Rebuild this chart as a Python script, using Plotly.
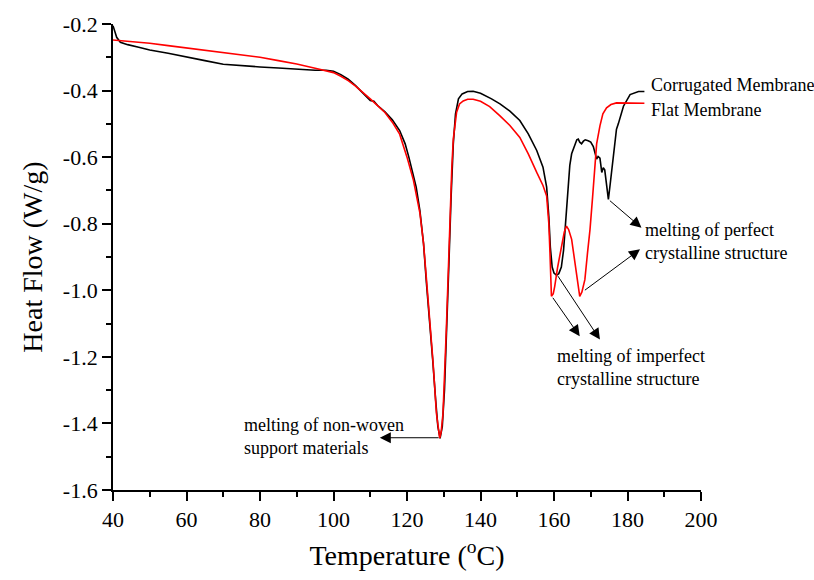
import plotly.graph_objects as go

# ---------------- data ----------------
corr_temp = [40, 40.5, 41, 42, 44, 47, 50, 55, 60, 65, 70, 75, 80, 85, 90, 95, 98, 100, 102, 104,
             106, 108, 110, 111, 112, 114, 116, 118, 119.5, 120.5, 121.5, 122.5, 123.5, 124.5,
             125.3, 126.2, 127, 127.8, 128.4, 129, 129.6, 130.2, 130.8, 131.4, 132, 132.6, 133.2,
             134, 135, 136.5, 138, 140, 143, 145.3, 148, 150.7, 153, 155.3, 157, 158, 158.6, 159,
             159.5, 160, 160.7, 161.3, 162, 162.6, 163, 163.4, 163.8, 164.3, 164.8, 165.2, 165.8,
             166.2, 166.6, 167, 167.5, 168, 168.5, 169.3, 170, 170.7, 171.2, 171.6, 172, 172.5,
             173, 173.4, 173.8, 174.3, 174.8, 175.3, 176.1, 177, 177.5, 178.9, 180.7, 183, 184.6]
corr_flow = [-0.205, -0.225, -0.240, -0.255, -0.262, -0.270, -0.278, -0.288, -0.298, -0.310,
             -0.321, -0.326, -0.329, -0.332, -0.336, -0.339, -0.339, -0.342, -0.352, -0.366,
             -0.385, -0.408, -0.430, -0.432, -0.445, -0.464, -0.488, -0.520, -0.560, -0.600,
             -0.645, -0.690, -0.760, -0.860, -0.980, -1.090, -1.210, -1.330, -1.410, -1.445,
             -1.410, -1.300, -1.130, -0.920, -0.720, -0.560, -0.470, -0.425, -0.410, -0.403,
             -0.402, -0.408, -0.425, -0.440, -0.462, -0.490, -0.530, -0.580, -0.630, -0.690,
             -0.780, -0.870, -0.930, -0.948, -0.955, -0.950, -0.930, -0.880, -0.820, -0.765,
             -0.690, -0.625, -0.590, -0.575, -0.560, -0.548, -0.546, -0.555, -0.560, -0.552,
             -0.548, -0.551, -0.555, -0.568, -0.590, -0.606, -0.598, -0.603, -0.646, -0.632,
             -0.638, -0.690, -0.727, -0.680, -0.596, -0.516, -0.500, -0.447, -0.412, -0.403, -0.403]

flat_temp = [40, 45, 50, 55, 60, 65, 70, 75, 80, 85, 90, 95, 98, 100, 102, 104, 106, 108, 110,
             112, 114, 116, 118, 120, 121.7, 123.5, 124.5, 125.3, 126.2, 127.1, 128, 128.5, 128.9,
             129.3, 129.8, 130.7, 131.2, 131.7, 132.2, 132.6, 133.5, 134.3, 135.3, 136.5, 138,
             140, 142.5, 145.3, 148, 150.7, 153, 155.3, 157, 158, 158.6, 158.9, 159.3, 159.8,
             160.2, 161, 162.1, 162.8, 163.4, 164, 164.8, 165.5, 166.2, 167, 167.6, 168.4, 169.1,
             169.8, 170.5, 171.1, 171.6, 172.5, 173.3, 174.3, 175.5, 177, 180, 184.6]
flat_flow = [-0.248, -0.252, -0.258, -0.265, -0.272, -0.279, -0.285, -0.292, -0.300, -0.310,
             -0.320, -0.333, -0.340, -0.346, -0.357, -0.370, -0.387, -0.405, -0.425, -0.445,
             -0.466, -0.495, -0.531, -0.600, -0.667, -0.767, -0.860, -0.968, -1.090, -1.218,
             -1.369, -1.420, -1.444, -1.425, -1.369, -1.118, -0.940, -0.767, -0.630, -0.546,
             -0.465, -0.440, -0.431, -0.426, -0.426, -0.432, -0.448, -0.476, -0.505, -0.541,
             -0.590, -0.646, -0.685, -0.717, -0.800, -0.887, -1.018, -1.010, -0.988, -0.930,
             -0.867, -0.825, -0.807, -0.818, -0.847, -0.900, -0.958, -1.018, -1.005, -0.968,
             -0.890, -0.817, -0.720, -0.646, -0.560, -0.506, -0.470, -0.452, -0.442, -0.437,
             -0.437, -0.438]

series_names = ["Corrugated Membrane", "Flat Membrane"]
x_tickvals = [40, 60, 80, 100, 120, 140, 160, 180, 200]
x_ticktext = ["40", "60", "80", "100", "120", "140", "160", "180", "200"]
y_tickvals = [-0.2, -0.4, -0.6, -0.8, -1.0, -1.2, -1.4, -1.6]
y_ticktext = ["-0.2", "-0.4", "-0.6", "-0.8", "-1.0", "-1.2", "-1.4", "-1.6"]

FONT = "Liberation Serif, Times New Roman, serif"

fig = go.Figure()
fig.add_trace(go.Scatter(x=corr_temp, y=corr_flow, mode="lines", name=series_names[0],
                         line=dict(color="#000000", width=1.6)))
fig.add_trace(go.Scatter(x=flat_temp, y=flat_flow, mode="lines", name=series_names[1],
                         line=dict(color="#ff0000", width=1.6)))

# series labels at curve ends
fig.add_annotation(x=185.9, y=-0.382, text=series_names[0], showarrow=False,
                   xanchor="left", yanchor="middle", font=dict(family=FONT, size=18, color="black"))
fig.add_annotation(x=185.9, y=-0.457, text=series_names[1], showarrow=False,
                   xanchor="left", yanchor="middle", font=dict(family=FONT, size=18, color="black"))

# text annotations
texts = [
    (75.0, -1.438, "melting of non-woven<br>support materials"),
    (160.2, -1.232, "melting of imperfect<br>crystalline structure"),
    (184.2, -0.852, "melting of perfect<br>crystalline structure"),
]
for x, y, t in texts:
    fig.add_annotation(x=x, y=y, text=t, showarrow=False, xanchor="left", yanchor="middle",
                       align="left", font=dict(family=FONT, size=18, color="black"))

# arrows: (tail x, tail y) on curve -> (head x, head y) near text
arrows = [
    (129.0, -1.443, 112.6, -1.443),
    (159.4, -1.018, 167.0, -1.138),
    (160.8, -0.953, 172.5, -1.148),
    (174.8, -0.727, 183.8, -0.812),
    (168.0, -1.003, 183.4, -0.877),
]
for tx, ty, hx, hy in arrows:
    fig.add_annotation(x=hx, y=hy, ax=tx, ay=ty, axref="x", ayref="y", xref="x", yref="y",
                       text="", showarrow=True, arrowhead=2, arrowsize=2.2, arrowwidth=1,
                       arrowcolor="black", standoff=0, startstandoff=0)

fig.update_layout(
    width=814, height=580,
    margin=dict(l=113, r=113, t=24, b=90),
    plot_bgcolor="white", paper_bgcolor="white",
    showlegend=False,
    font=dict(family=FONT, color="black"),
    xaxis=dict(
        range=[40, 200], tickvals=x_tickvals, ticktext=x_ticktext,
        ticks="outside", ticklen=9, tickwidth=1.5, tickcolor="black",
        minor=dict(dtick=10, tick0=40, ticks="outside", ticklen=5, tickwidth=1.5, tickcolor="black"),
        showline=True, linewidth=1.8, linecolor="black", showgrid=False, zeroline=False,
        tickfont=dict(family=FONT, size=22, color="black"),
        title=dict(text="Temperature (<sup>o</sup>C)", font=dict(family=FONT, size=28, color="black"),
                   standoff=14),
        automargin=False,
    ),
    yaxis=dict(
        range=[-1.6, -0.2], tickvals=y_tickvals, ticktext=y_ticktext,
        ticks="outside", ticklen=9, tickwidth=1.5, tickcolor="black",
        minor=dict(dtick=0.1, tick0=-1.6, ticks="outside", ticklen=5, tickwidth=1.5, tickcolor="black"),
        showline=True, linewidth=1.8, linecolor="black", showgrid=False, zeroline=False,
        tickfont=dict(family=FONT, size=22, color="black"),
        title=dict(text="Heat Flow (W/g)", font=dict(family=FONT, size=28, color="black"),
                   standoff=12),
        automargin=False,
    ),
)

fig.write_html("out.html")
